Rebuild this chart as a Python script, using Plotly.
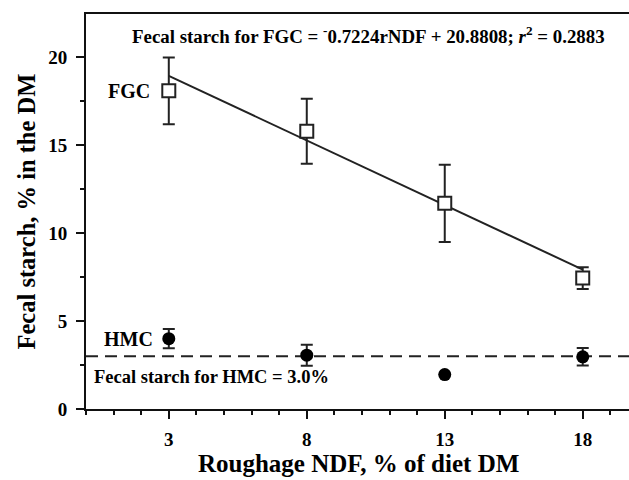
import plotly.graph_objects as go

roughage_ndf = [3, 8, 13, 18]
fgc_starch = [18.1, 15.8, 11.7, 7.45]
fgc_sem = [1.9, 1.85, 2.2, 0.62]
hmc_starch = [4.0, 3.06, 1.96, 2.97]
hmc_sem = [0.55, 0.6, 0.0, 0.5]
fgc_fit_x = [3, 18]
fgc_fit_y = [18.95, 7.93]
hmc_mean = 3.0
x_ticks = [3, 8, 13, 18]
y_ticks = [0, 5, 10, 15, 20]

FONT = "Liberation Serif"
X_MAX = 20.8
PLOT_W = 574.0
PLOT_H = 395.5
fig = go.Figure()

fig.add_trace(go.Scatter(x=[0, X_MAX], y=[hmc_mean, hmc_mean], mode="lines",
                         line=dict(color="#222", width=2, dash="12px,7px"),
                         showlegend=False, hoverinfo="skip"))
fig.add_trace(go.Scatter(x=fgc_fit_x, y=fgc_fit_y, mode="lines",
                         line=dict(color="#222", width=2), showlegend=False))
fig.add_trace(go.Scatter(x=roughage_ndf, y=fgc_starch, mode="markers",
                         marker=dict(symbol="square", size=13, color="white",
                                     line=dict(color="#222", width=2)),
                         error_y=dict(type="data", array=fgc_sem, color="#222",
                                      thickness=2, width=6),
                         showlegend=False))
fig.add_trace(go.Scatter(x=roughage_ndf, y=hmc_starch, mode="markers",
                         marker=dict(symbol="circle", size=13, color="black"),
                         error_y=dict(type="data", array=hmc_sem, color="#222",
                                      thickness=2, width=6),
                         showlegend=False))

ann_font = dict(family=FONT, color="black", weight="bold")
fig.add_annotation(x=1.59, y=21.28, xref="x", yref="y", xanchor="left",
                   text="Fecal starch for FGC = <sup>-</sup>0.7224rNDF + 20.8808; <i>r</i><sup>2</sup> = 0.2883",
                   showarrow=False, font=dict(size=18.9, **ann_font))
fig.add_annotation(x=2.39, y=18.1, xref="x", yref="y", text="FGC", xanchor="right",
                   showarrow=False, font=dict(size=20, **ann_font))
fig.add_annotation(x=2.5, y=4.0, xref="x", yref="y", text="HMC", xanchor="right",
                   showarrow=False, font=dict(size=20, **ann_font))
fig.add_annotation(x=0.22, y=1.8, xref="x", yref="y", text="Fecal starch for HMC = 3.0%",
                   xanchor="left", showarrow=False, font=dict(size=18.5, **ann_font))
fig.add_annotation(x=-60 / PLOT_W, y=0.5, xref="paper", yref="paper",
                   xanchor="center", yanchor="middle",
                   text="Fecal starch, % in the DM", textangle=-90,
                   showarrow=False, font=dict(size=24.5, **ann_font))
fig.add_annotation(x=272 / PLOT_W, y=-54.5 / PLOT_H, xref="paper", yref="paper",
                   text="Roughage NDF, % of diet DM", yanchor="middle",
                   showarrow=False, font=dict(size=25, **ann_font))

fig.update_xaxes(range=[0, X_MAX], showgrid=False, zeroline=False, automargin=False,
                 showline=True, linecolor="#111", linewidth=2, mirror=True,
                 tickmode="array", tickvals=x_ticks, ticktext=[str(v) for v in x_ticks],
                 ticks="outside", ticklen=8, tickwidth=2, tickcolor="#111",
                 ticklabelstandoff=4,
                 minor=dict(dtick=1, tick0=0, ticks="outside", ticklen=4, tickwidth=2, tickcolor="#111"),
                 tickfont=dict(family=FONT, size=19, color="black", weight="bold"))
fig.update_yaxes(range=[0, 22.47], showgrid=False, zeroline=False, automargin=False,
                 showline=True, linecolor="#111", linewidth=2,
                 tickmode="array", tickvals=y_ticks, ticktext=[str(v) for v in y_ticks],
                 ticks="outside", ticklen=8, tickwidth=2, tickcolor="#111",
                 ticklabelstandoff=5,
                 minor=dict(dtick=2.5, tick0=0, ticks="outside", ticklen=4, tickwidth=2, tickcolor="#111"),
                 tickfont=dict(family=FONT, size=19, color="black", weight="bold"))

fig.update_layout(width=660, height=480, plot_bgcolor="white", paper_bgcolor="white",
                  margin=dict(l=86, r=0, t=14, b=70.5, autoexpand=False), showlegend=False)

fig.write_html("out.html", config={"displayModeBar": False},
               post_script="document.body.style.margin='0';document.body.style.overflow='hidden';document.documentElement.style.overflow='hidden';")
